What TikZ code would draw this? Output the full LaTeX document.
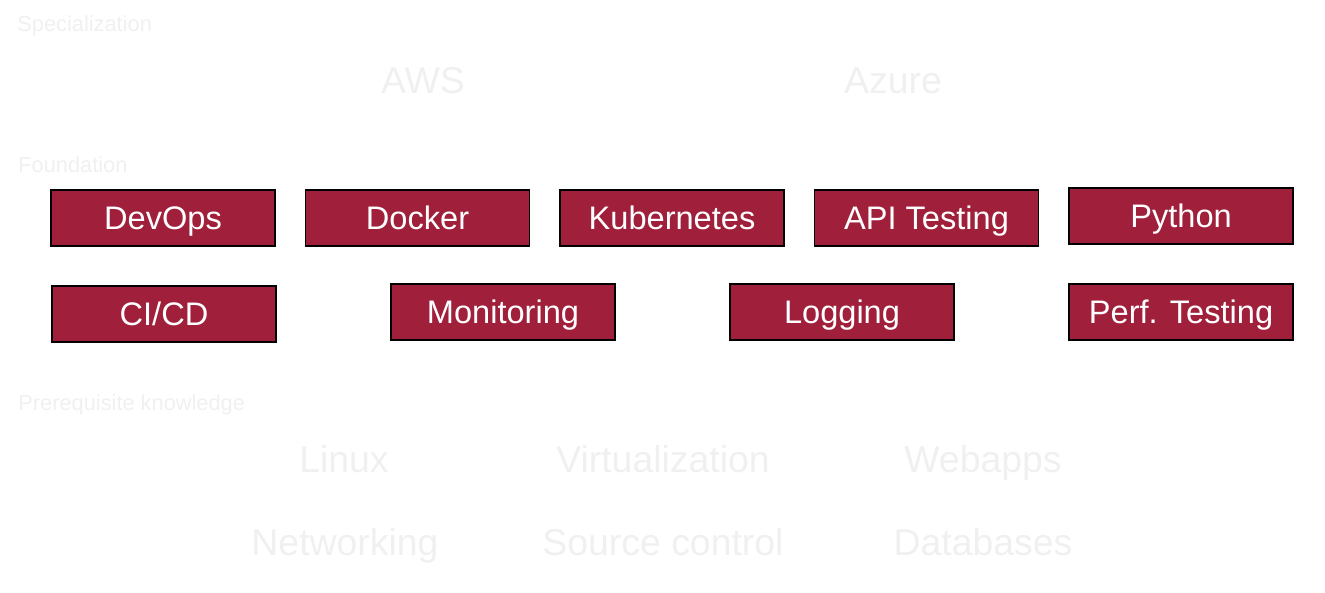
\documentclass[tikz,border=0pt]{standalone}
\usepackage{fontspec}
\setmainfont{Liberation Sans}
\usetikzlibrary{positioning}

\definecolor{skillred}{HTML}{A01F3B}
\definecolor{fadegray}{HTML}{F0F0F0}

\tikzstyle{skill} = [rectangle, minimum width=112pt, minimum height=28pt, inner sep=0pt, outer sep=0pt, text height=11.7pt, text depth=0pt, text centered, draw=black, line width=0.75pt, fill=skillred, text=white, font=\fontsize{16.3}{18}\selectfont]
\tikzstyle{tier} = [anchor=base west, inner sep=0pt, text=fadegray, font=\fontsize{10.9}{12}\selectfont]
\tikzstyle{topic} = [anchor=base, inner sep=0pt, text=fadegray, font=\fontsize{18.7}{21}\selectfont]

\begin{document}
\begin{tikzpicture}[x=0.5pt, y=-0.5pt, node distance=15.25pt]
        \useasboundingbox (0,0) rectangle (1325,593);

        % specialization
        \node (specialization) [tier] at (17,32) {Specialization};
        \node (aws) [topic] at (423,94) {AWS};
        \node (azure) [topic] at (893,94) {Azure};

        % foundation
        \node (foundation) [tier] at (18,173) {Foundation};
        \node (devops) [skill] at (163,218) {DevOps};
        \node (docker) [skill, right=of devops] {Docker};
        \node (kubernetes) [skill, right=of docker] {Kubernetes};
        \node (apitesting) [skill, right=of kubernetes] {API Testing};
        \node (python) [skill, right=of apitesting, yshift=1pt] {Python};

        \node (cicd) [skill, below=20pt of devops, xshift=0.5pt] {CI/CD};
        \node (monitoring) [skill, right=57.5pt of cicd, yshift=1pt] {Monitoring};
        \node (logging) [skill, right=57.5pt of monitoring] {Logging};
        \node (perftesting) [skill, right=57.5pt of logging] {Perf. Testing};

        % prerequisite knowledge
        \node (prerequisite) [tier] at (18,410) {Prerequisite knowledge};
        \node (linux) [topic] at (344,472) {Linux};
        \node (virtualization) [topic] at (663,472) {Virtualization};
        \node (webapps) [topic] at (983,472) {Webapps};
        \node (networking) [topic] at (345,555) {Networking};
        \node (sourcecontrol) [topic] at (663,555) {Source control};
        \node (databases) [topic] at (983,555) {Databases};
    \end{tikzpicture}
\end{document}
